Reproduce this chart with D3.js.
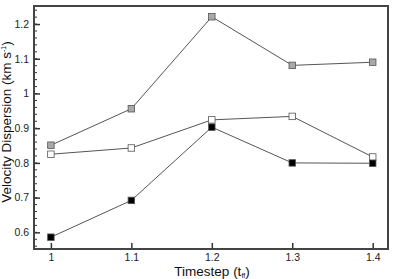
<!DOCTYPE html>
<html>
<head>
<meta charset="utf-8">
<script src="https://cdn.jsdelivr.net/npm/d3@7"></script>
<style>
  body { margin: 0; background: #fff; }
  text { font-family: "Liberation Sans", Arial, sans-serif; }
</style>
</head>
<body>
<div id="chart"></div>
<script>
// timesteps (t_ff)
const timesteps = [1.0, 1.1, 1.2, 1.3, 1.4];
const grayValues = [0.851, 0.956, 1.221, 1.081, 1.090];
const whiteValues = [0.825, 0.843, 0.924, 0.934, 0.817];
const blackValues = [0.586, 0.692, 0.903, 0.800, 0.799];
const xTicks = [1.0, 1.1, 1.2, 1.3, 1.4];
const yTicks = [0.6, 0.7, 0.8, 0.9, 1.0, 1.1, 1.2];

const series = [
  { name: "gray", values: grayValues, fill: "#a9a9a9" },
  { name: "white", values: whiteValues, fill: "#ffffff" },
  { name: "black", values: blackValues, fill: "#000000" }
];

const margin = { top: 6, right: 7, bottom: 30, left: 34 },
      width = 395 - margin.left - margin.right,
      height = 279 - margin.top - margin.bottom;

const svg = d3.select("#chart")
  .append("svg")
    .attr("width", 395)
    .attr("height", 279);

const g = svg.append("g")
  .attr("transform", `translate(${margin.left},${margin.top})`);

const x = d3.scaleLinear().domain([0.979, 1.419]).range([0, width]);
const y = d3.scaleLinear().domain([0.552, 1.252]).range([height, 0]);

const fmt = d => String(+d.toFixed(1));

// minor y ticks
g.selectAll(".ymin")
  .data(d3.range(0.56, 1.251, 0.02))
  .enter().append("line")
    .attr("x1", 0).attr("x2", 3)
    .attr("y1", d => y(d)).attr("y2", d => y(d))
    .attr("stroke", "#333").attr("stroke-width", 1);

// y axis
const yAxis = g.append("g")
  .call(d3.axisLeft(y).tickValues(yTicks).tickSizeInner(-6).tickSizeOuter(0).tickPadding(5)
    .tickFormat(fmt));
yAxis.select(".domain").remove();
yAxis.selectAll("line").attr("stroke", "#333").attr("stroke-width", 1.5);
yAxis.selectAll("text").attr("font-size", 10.5).attr("fill", "#222")
  .attr("font-family", "Liberation Sans, Arial, sans-serif");

// x axis
const xAxis = g.append("g")
  .attr("transform", `translate(0,${height})`)
  .call(d3.axisBottom(x).tickValues(xTicks).tickSizeInner(-6).tickSizeOuter(0).tickPadding(5)
    .tickFormat(fmt));
xAxis.select(".domain").remove();
xAxis.selectAll("line").attr("stroke", "#333").attr("stroke-width", 1.5);
xAxis.selectAll("text").attr("font-size", 10.5).attr("fill", "#222")
  .attr("font-family", "Liberation Sans, Arial, sans-serif");

// frame
g.append("rect")
  .attr("width", width).attr("height", height)
  .attr("fill", "none").attr("stroke", "#444").attr("stroke-width", 2);

const line = d3.line()
  .x((d, i) => x(timesteps[i]))
  .y(d => y(d));

series.forEach(s => {
  g.append("path")
    .datum(s.values)
    .attr("d", line)
    .attr("fill", "none")
    .attr("stroke", "#555")
    .attr("stroke-width", 1);
});

const sz = 6.5;
series.forEach(s => {
  g.selectAll(".pt-" + s.name)
    .data(s.values)
    .enter().append("rect")
      .attr("x", (d, i) => x(timesteps[i]) - sz / 2)
      .attr("y", d => y(d) - sz / 2)
      .attr("width", sz).attr("height", sz)
      .attr("fill", s.fill)
      .attr("stroke", "#555")
      .attr("stroke-width", 0.8);
});

// axis labels
const xl = svg.append("text")
  .attr("x", 212)
  .attr("y", 276)
  .attr("text-anchor", "middle")
  .attr("font-size", 13.5)
  .attr("fill", "#111");
xl.append("tspan").text("Timestep (t");
xl.append("tspan").attr("font-size", 7).attr("dy", 2).text("ff");
xl.append("tspan").attr("dy", -2).text(")");

const yl = svg.append("text")
  .attr("transform", "translate(11,122) rotate(-90)")
  .attr("text-anchor", "middle")
  .attr("font-size", 13.5)
  .attr("fill", "#111");
yl.append("tspan").text("Velocity Dispersion (km s");
yl.append("tspan").attr("font-size", 7).attr("dy", -5).text("-1");
yl.append("tspan").attr("dy", 5).text(")");
</script>
</body>
</html>
